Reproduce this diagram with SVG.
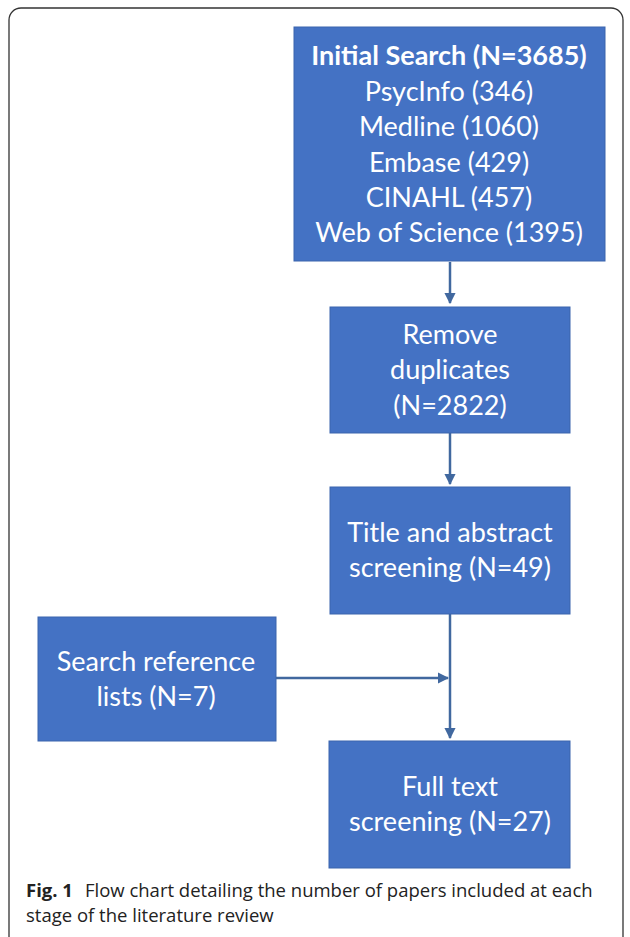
<svg xmlns="http://www.w3.org/2000/svg" width="630" height="937" viewBox="0 0 630 937">
<defs>
<style>
.box{fill:#4472C4;stroke:#3b64ad;stroke-width:1}
.t{font-family:Lato,"Open Sans","Liberation Sans",sans-serif;font-size:27px;fill:#ffffff;text-anchor:middle}
.b{font-weight:bold}
.c{stroke:#41689f;stroke-width:2.5;fill:none}
.cap{font-family:"Open Sans","Liberation Sans",sans-serif;font-size:18.5px;fill:#222}
</style>
<marker id="ah" viewBox="0 0 10 10" refX="9" refY="5" markerWidth="4.5" markerHeight="4.5" orient="auto" markerUnits="strokeWidth">
<path d="M0,0 L10,5 L0,10 z" fill="#41689f"/>
</marker>
</defs>
<rect x="0" y="0" width="630" height="937" fill="#ffffff"/>
<rect x="9" y="8" width="614" height="960" rx="12" fill="none" stroke="#333" stroke-width="1.3"/>
<g id="connectors">
<line class="c" x1="450" y1="262" x2="450" y2="303" marker-end="url(#ah)"/>
<line class="c" x1="450" y1="433" x2="450" y2="484" marker-end="url(#ah)"/>
<line class="c" x1="450" y1="614" x2="450" y2="738" marker-end="url(#ah)"/>
<line class="c" x1="276" y1="678" x2="448" y2="678" marker-end="url(#ah)"/>
</g>
<g id="n1">
<rect class="box" x="294" y="27" width="311" height="234"/>
<text class="t b" x="449" y="65">Initial Search (N=3685)</text>
<text class="t" x="449" y="101">PsycInfo (346)</text>
<text class="t" x="449" y="136">Medline (1060)</text>
<text class="t" x="449" y="172">Embase (429)</text>
<text class="t" x="449" y="207">CINAHL (457)</text>
<text class="t" x="449" y="242">Web of Science (1395)</text>
</g>
<g id="n2">
<rect class="box" x="330" y="307" width="240" height="126"/>
<text class="t" x="450" y="344">Remove</text>
<text class="t" x="450" y="379">duplicates</text>
<text class="t" x="450" y="415">(N=2822)</text>
</g>
<g id="n3">
<rect class="box" x="330" y="487" width="240" height="127"/>
<text class="t" x="450" y="542">Title and abstract</text>
<text class="t" x="450" y="577">screening (N=49)</text>
</g>
<g id="n4">
<rect class="box" x="38" y="617" width="238" height="124"/>
<text class="t" x="156" y="671">Search reference</text>
<text class="t" x="156" y="706">lists (N=7)</text>
</g>
<g id="n5">
<rect class="box" x="329" y="741" width="241" height="127"/>
<text class="t" x="450" y="796">Full text</text>
<text class="t" x="450" y="831">screening (N=27)</text>
</g>
<g id="caption">
<text class="cap" x="26" y="897"><tspan font-weight="bold">Fig. 1</tspan><tspan dx="12">Flow chart detailing the number of papers included at each</tspan></text>
<text class="cap" x="26" y="922">stage of the literature review</text>
</g>
</svg>
